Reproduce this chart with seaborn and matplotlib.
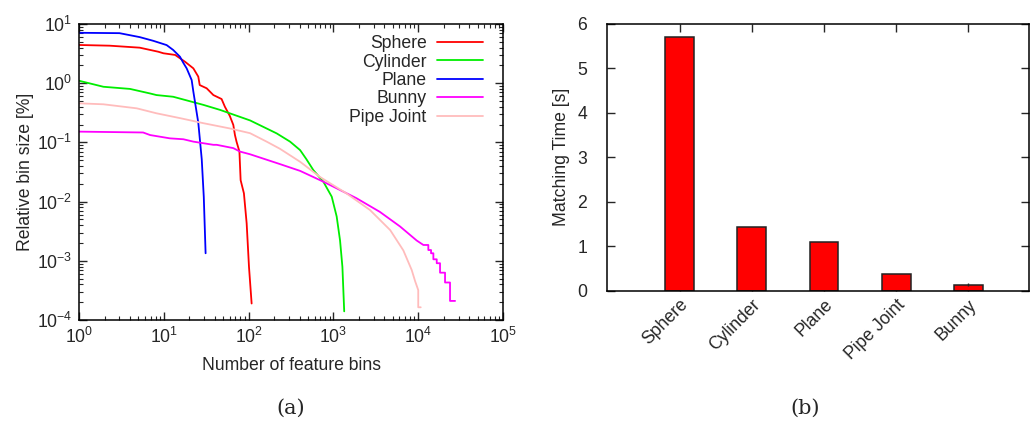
import numpy as np
import pandas as pd
import matplotlib
matplotlib.use("Agg")
import matplotlib.pyplot as plt
import seaborn as sns

# --- (a) relative bin size vs number of feature bins ---
sphere_x = [1, 2.3, 5.2, 8.6, 9.9, 13.6, 17.8, 22.3, 25.5, 26.5, 32, 38.4, 48, 52.5, 60,
            66, 69, 72, 77.9, 80.5, 88, 94.8, 101, 108.5]
sphere_y = [4.42, 4.3, 3.98, 3.4, 3.2, 3.0, 2.3, 1.78, 1.29, 0.93, 0.82, 0.63, 0.54, 0.40,
            0.28, 0.197, 0.133, 0.103, 0.070, 0.023, 0.0138, 4.3e-3, 7.9e-4, 1.9e-4]

cylinder_x = [1, 1.94, 4.0, 6.9, 8.2, 12.9, 29.3, 46, 104, 214, 308, 405, 480, 580, 760,
              955, 1092, 1197, 1276, 1340]
cylinder_y = [1.10, 0.87, 0.80, 0.67, 0.63, 0.59, 0.43, 0.354, 0.235, 0.142, 0.103, 0.074,
              0.052, 0.034, 0.0217, 0.0121, 5.6e-3, 2.2e-3, 7.9e-4, 1.4e-4]

plane_x = [1, 3.0, 5.2, 7.5, 10.8, 12.9, 15.5, 17, 18.6, 21.3, 22.3, 25.5, 28, 29.6, 31.1]
plane_y = [7.1, 7.0, 6.0, 5.2, 4.4, 3.64, 2.8, 2.2, 1.78, 1.13, 0.72, 0.215, 0.052, 0.012,
           1.34e-3]

bunny_x = [1, 5.7, 6.9, 11.8, 17, 22.3, 38.4, 42, 66, 79, 104, 163, 234, 405, 760, 1870,
           3530, 6100, 9590, 11500, 13150, 13150, 14160, 14160, 15080, 15080, 16520, 16520,
           18070, 18070, 20700, 20700, 23700, 23700, 27200]
bunny_y = [0.152, 0.147, 0.133, 0.117, 0.113, 0.103, 0.091, 0.091, 0.080, 0.070, 0.063,
           0.051, 0.043, 0.033, 0.0217, 0.0114, 6.7e-3, 3.8e-3, 2.2e-3, 1.85e-3, 1.85e-3,
           1.52e-3, 1.52e-3, 1.34e-3, 1.34e-3, 1.06e-3, 1.06e-3, 9.1e-4, 9.1e-4, 6.3e-4,
           6.3e-4, 4.3e-4, 4.3e-4, 2.1e-4, 2.1e-4]

pipe_x = [1, 1.94, 4.8, 8.2, 15.5, 29.3, 60, 104, 163, 234, 405, 696, 1420, 2700, 4670,
          6670, 8370, 9200, 10000, 10000, 10700]
pipe_y = [0.457, 0.44, 0.376, 0.31, 0.257, 0.211, 0.172, 0.143, 0.103, 0.078, 0.047, 0.026,
          0.0138, 7.2e-3, 3.3e-3, 1.5e-3, 7e-4, 4.5e-4, 3.2e-4, 1.64e-4, 1.64e-4]

series_names = ["Sphere", "Cylinder", "Plane", "Bunny", "Pipe Joint"]
series_colors = ["#ff0000", "#00ee00", "#0000ff", "#ff00ff", "#ffbcbc"]
series_data = [(sphere_x, sphere_y), (cylinder_x, cylinder_y), (plane_x, plane_y),
               (bunny_x, bunny_y), (pipe_x, pipe_y)]

# --- (b) matching time per model ---
models = ["Sphere", "Cylinder", "Plane", "Pipe Joint", "Bunny"]
match_time = [5.70, 1.44, 1.10, 0.37, 0.13]
match_err = [0, 0, 0, 0, 0.03]

FS = 12.7

sns.set_style("ticks")
plt.rcParams['font.family'] = ['Liberation Sans', 'DejaVu Sans']
plt.rcParams['mathtext.default'] = 'regular'
plt.rcParams['font.size'] = FS

fig = plt.figure(figsize=(10.3, 4.23), dpi=100)

# left panel
ax1 = fig.add_axes([0.0767, 0.2435, 0.4117, 0.6998])
for name, col, (xs, ys) in zip(series_names, series_colors, series_data):
    sns.lineplot(x=xs, y=ys, ax=ax1, color=col, label=name, linewidth=1.3,
                 estimator=None, sort=False)
ax1.set_xscale("log")
ax1.set_yscale("log")
ax1.set_xlim(1, 1e5)
ax1.set_ylim(1e-4, 10)
ax1.set_xlabel("Number of feature bins", fontsize=FS, labelpad=7)
ax1.set_ylabel("Relative bin size [%]", fontsize=FS, labelpad=2)
ax1.tick_params(which="both", direction="in", top=True, right=True, labelsize=FS)
ax1.tick_params(which="major", length=6, width=1, pad=5)
ax1.tick_params(which="minor", length=3, width=0.8)
for sp in ax1.spines.values():
    sp.set_linewidth(1.1)
    sp.set_color("black")
leg = ax1.legend(loc="upper right", bbox_to_anchor=(0.953, 0.962), frameon=False,
                 markerfirst=False, fontsize=FS, handlelength=2.6, handletextpad=0.6,
                 labelspacing=0.08, borderpad=0, borderaxespad=0)
fig.text(0.282, 0.035, "(a)", ha="center", va="center", fontsize=15,
         family=["DejaVu Serif"])

# right panel
ax2 = fig.add_axes([0.589, 0.3128, 0.41, 0.6305])
bar_df = pd.DataFrame({"model": models, "time": match_time})
sns.barplot(data=bar_df, x="model", y="time", ax=ax2, color="#ff0000", width=0.4,
            edgecolor="#222222", linewidth=1.1, saturation=1, errorbar=None)
ax2.errorbar(np.arange(len(models)), match_time, yerr=match_err, fmt="none",
             ecolor="#222222", elinewidth=1, capsize=0)
ax2.set_xlim(-1.01, 4.84)
ax2.set_ylim(0, 6)
ax2.set_yticks(range(0, 7))
ax2.set_xlabel("")
ax2.set_ylabel("Matching Time [s]", fontsize=FS, labelpad=5)
ax2.tick_params(which="both", direction="in", top=True, right=True, labelsize=FS)
ax2.tick_params(axis="y", length=6, width=1, pad=14)
ax2.tick_params(axis="x", length=6, width=1, pad=4)
plt.setp(ax2.get_xticklabels(), rotation=45, ha="right", rotation_mode="anchor")
for sp in ax2.spines.values():
    sp.set_linewidth(1.1)
    sp.set_color("black")
fig.text(0.782, 0.035, "(b)", ha="center", va="center", fontsize=15,
         family=["DejaVu Serif"])

fig.savefig("out.png", dpi=100)
